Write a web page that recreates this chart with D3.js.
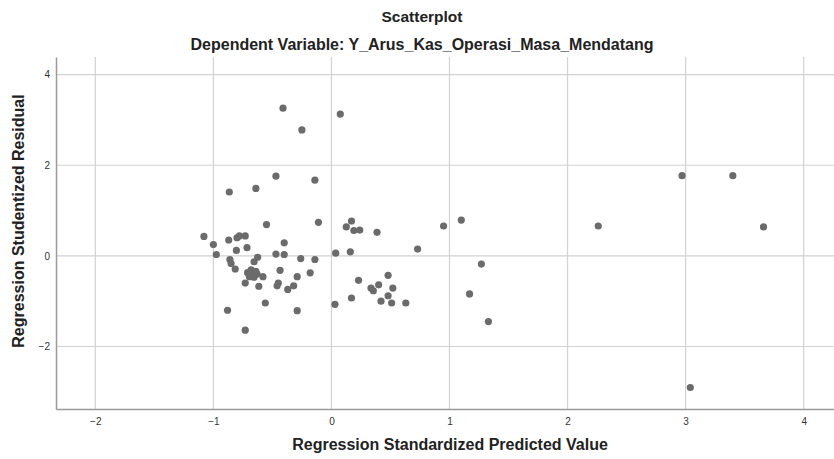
<!DOCTYPE html>
<html>
<head>
<meta charset="utf-8">
<script src="https://cdn.jsdelivr.net/npm/d3@7"></script>
<style>
  body { margin: 0; background: #fff; }
  svg text { font-family: "Liberation Sans", Arial, sans-serif; }
</style>
</head>
<body>
<div id="scatter"></div>
<script>
// standardized predicted value (x) and studentized residual (y)
const predicted = [
  -0.41, -0.25, 0.075, -0.865, -0.64, -0.47, -0.14, -0.55, -0.11, 0.126,
  0.17, 0.19, 0.24, 0.386, -1.08, -1.0, -0.975, -0.87, -0.80, -0.78,
  -0.73, -0.805, -0.715, -0.40, -0.47, -0.40, -0.26, -0.14, -0.86, -0.85,
  -0.815, -0.625, -0.655, -0.71, -0.68, -0.655, -0.63, -0.695, -0.655, -0.58,
  -0.67, -0.64, -0.435, -0.73, -0.615, -0.45, -0.46, -0.29, -0.37, -0.32,
  -0.18, -0.56, -0.88, -0.29, -0.73, 0.036, 0.16, 0.23, 0.335, 0.355,
  0.17, 0.03, 0.95, 1.10, 0.73, 1.27, 0.48, 0.40, 0.52, 0.48,
  0.42, 0.51, 0.63, 1.17, 1.33, 2.26, 2.97, 3.40, 3.66, 3.04
];
const residual = [
  3.26, 2.78, 3.13, 1.41, 1.49, 1.76, 1.67, 0.69, 0.74, 0.64,
  0.77, 0.56, 0.57, 0.52, 0.43, 0.25, 0.03, 0.35, 0.40, 0.44,
  0.44, 0.12, 0.18, 0.29, 0.04, 0.03, -0.06, -0.08, -0.08, -0.17,
  -0.29, -0.03, -0.13, -0.37, -0.31, -0.37, -0.40, -0.46, -0.47, -0.46,
  -0.42, -0.34, -0.32, -0.60, -0.67, -0.60, -0.66, -0.46, -0.74, -0.66,
  -0.375, -1.04, -1.20, -1.21, -1.64, 0.06, 0.09, -0.54, -0.71, -0.77,
  -0.93, -1.07, 0.66, 0.79, 0.15, -0.18, -0.43, -0.64, -0.71, -0.88,
  -1.0, -1.04, -1.04, -0.84, -1.45, 0.66, 1.77, 1.77, 0.64, -2.905
];
const xTicks = [-2, -1, 0, 1, 2, 3, 4];
const yTicks = [-2, 0, 2, 4];

const titleText = "Scatterplot";
const subtitleText = "Dependent Variable: Y_Arus_Kas_Operasi_Masa_Mendatang";
const xLabel = "Regression Standardized Predicted Value";
const yLabel = "Regression Studentized Residual";

const width = 834, height = 459;
const margin = { top: 57, right: 0, bottom: 50, left: 56 };

const svg = d3.select('#scatter')
  .append('svg')
  .attr('width', width)
  .attr('height', height);

const xScale = d3.scaleLinear()
  .domain([-2.333, 4.257])
  .range([margin.left, width - margin.right]);

const yScale = d3.scaleLinear()
  .domain([-3.38, 4.39])
  .range([height - margin.bottom, margin.top]);

// grid lines
const grid = svg.append('g').attr('id', 'grid');
grid.selectAll('line.vx')
  .data(xTicks)
  .join('line')
  .attr('class', 'vx')
  .attr('x1', d => xScale(d)).attr('x2', d => xScale(d))
  .attr('y1', margin.top).attr('y2', height - margin.bottom)
  .attr('stroke', '#d2d2d2')
  .attr('stroke-width', 1.2);
grid.selectAll('line.hy')
  .data(yTicks)
  .join('line')
  .attr('class', 'hy')
  .attr('x1', margin.left).attr('x2', width - margin.right)
  .attr('y1', d => yScale(d)).attr('y2', d => yScale(d))
  .attr('stroke', '#d2d2d2')
  .attr('stroke-width', 1.2);

// axes
const xAxis = svg.append('g')
  .attr('transform', `translate(0,${height - margin.bottom})`)
  .call(d3.axisBottom(xScale).tickValues(xTicks).tickSize(0).tickPadding(9).tickFormat(d3.format('d')));
const yAxis = svg.append('g')
  .attr('transform', `translate(${margin.left},0)`)
  .call(d3.axisLeft(yScale).tickValues(yTicks).tickSize(0).tickPadding(6).tickFormat(d3.format('d')));

[xAxis, yAxis].forEach(a => {
  a.select('.domain').attr('stroke', '#9a9a9a').attr('stroke-width', 1.5);
  a.selectAll('text').attr('font-size', 10).attr('fill', '#333');
});

// points
svg.append('g').attr('id', 'points')
  .selectAll('circle')
  .data(predicted.map((p, i) => ({ x: p, y: residual[i] })))
  .join('circle')
  .attr('cx', d => xScale(d.x))
  .attr('cy', d => yScale(d.y))
  .attr('r', 3.6)
  .attr('fill', '#6b6b6b');

// titles
svg.append('text')
  .attr('x', 422).attr('y', 22)
  .attr('text-anchor', 'middle')
  .attr('font-size', 15.5).attr('font-weight', 'bold').attr('fill', '#222')
  .text(titleText);
svg.append('text')
  .attr('x', 422).attr('y', 50)
  .attr('text-anchor', 'middle')
  .attr('font-size', 16).attr('font-weight', 'bold').attr('fill', '#222')
  .text(subtitleText);
svg.append('text')
  .attr('x', 450).attr('y', 450)
  .attr('text-anchor', 'middle')
  .attr('font-size', 16).attr('font-weight', 'bold').attr('fill', '#222')
  .text(xLabel);
svg.append('text')
  .attr('transform', `translate(24,221) rotate(-90)`)
  .attr('text-anchor', 'middle')
  .attr('font-size', 16).attr('font-weight', 'bold').attr('fill', '#222')
  .text(yLabel);
</script>
</body>
</html>
